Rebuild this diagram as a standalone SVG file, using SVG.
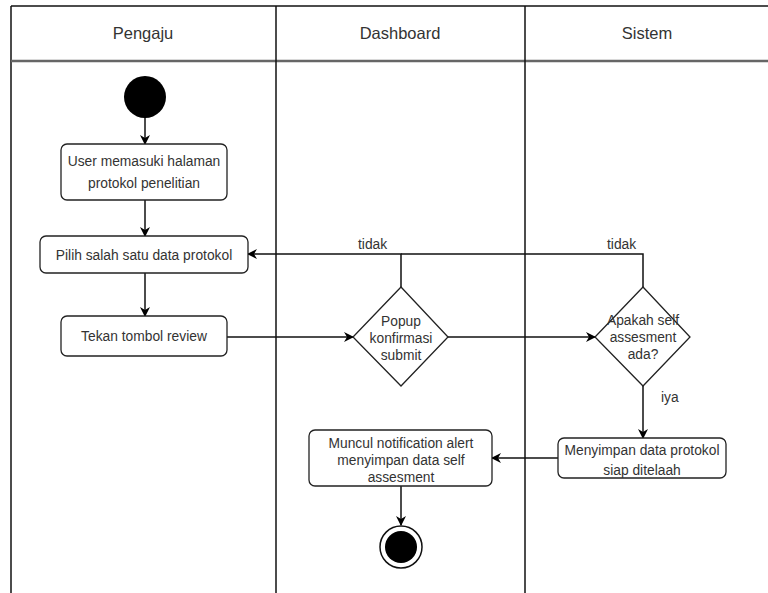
<svg xmlns="http://www.w3.org/2000/svg" width="768" height="593" viewBox="0 0 768 593">
  <defs>
    <marker id="arrow" viewBox="0 0 10 10" refX="9" refY="5" markerWidth="10" markerHeight="10" markerUnits="userSpaceOnUse" orient="auto">
      <path d="M0,0 L10,5 L0,10 L3,5 Z" fill="#000"/>
    </marker>
  </defs>
  <style>
    text { font-family: "Liberation Sans", Arial, sans-serif; fill: #333; }
    .hdr { font-size: 16.5px; text-anchor: middle; }
    .lbl { font-size: 13.8px; text-anchor: middle; }
    .edge-lbl { font-size: 13.8px; }
    .box { fill: #fff; stroke: #222; stroke-width: 1.3; }
    .lane { stroke: #111; stroke-width: 1.5; fill: none; }
    .edge { stroke: #111; stroke-width: 1.5; fill: none; }
  </style>
  <rect width="768" height="593" fill="#fff"/>

  <!-- swimlane frame -->
  <g id="lanes">
    <line class="lane" x1="11" y1="6" x2="768" y2="6"/>
    <line class="lane" x1="11" y1="6" x2="11" y2="593"/>
    <line x1="11" y1="61" x2="768" y2="61" stroke="#666" stroke-width="2.5"/>
    <line class="lane" x1="276" y1="6" x2="276" y2="593"/>
    <line class="lane" x1="525" y1="6" x2="525" y2="593"/>
    <text class="hdr" x="143" y="39">Pengaju</text>
    <text class="hdr" x="400" y="39">Dashboard</text>
    <text class="hdr" x="647" y="39">Sistem</text>
  </g>

  <!-- connectors -->
  <g id="connectors">
    <line class="edge" x1="145" y1="118" x2="145" y2="144" marker-end="url(#arrow)"/>
    <line class="edge" x1="145" y1="200" x2="145" y2="236" marker-end="url(#arrow)"/>
    <line class="edge" x1="145" y1="273" x2="145" y2="316" marker-end="url(#arrow)"/>
    <line class="edge" x1="227" y1="337" x2="353" y2="337" marker-end="url(#arrow)"/>
    <line class="edge" x1="448" y1="337" x2="595" y2="337" marker-end="url(#arrow)"/>
    <polyline class="edge" points="401,287 401,254 248,254" marker-end="url(#arrow)"/>
    <polyline class="edge" points="643,287 643,254 401,254"/>
    <line class="edge" x1="643" y1="386" x2="643" y2="438" marker-end="url(#arrow)"/>
    <line class="edge" x1="558" y1="458" x2="492" y2="458" marker-end="url(#arrow)"/>
    <line class="edge" x1="401" y1="486" x2="401" y2="525" marker-end="url(#arrow)"/>
    <text class="edge-lbl" x="358" y="249">tidak</text>
    <text class="edge-lbl" x="607" y="249">tidak</text>
    <text class="edge-lbl" x="661" y="402">iya</text>
  </g>

  <g id="start">
    <circle cx="145" cy="97" r="21" fill="#000"/>
  </g>

  <g id="masuk-halaman">
    <rect class="box" x="61" y="144" width="166" height="56" rx="6"/>
    <text class="lbl" x="144" y="166">User memasuki halaman</text>
    <text class="lbl" x="144" y="188">protokol penelitian</text>
  </g>

  <g id="pilih-protokol">
    <rect class="box" x="40" y="236" width="208" height="37" rx="6"/>
    <text class="lbl" x="144" y="260">Pilih salah satu data protokol</text>
  </g>

  <g id="tekan-review">
    <rect class="box" x="61" y="316" width="166" height="40" rx="6"/>
    <text class="lbl" x="144" y="341">Tekan tombol review</text>
  </g>

  <g id="popup-konfirmasi">
    <polygon class="box" points="401,287 448,337 401,386 353,337"/>
    <text class="lbl" x="401" y="326">Popup</text>
    <text class="lbl" x="401" y="343">konfirmasi</text>
    <text class="lbl" x="401" y="360">submit</text>
  </g>

  <g id="cek-self-assesment">
    <polygon class="box" points="643,287 690,337 643,386 595,337"/>
    <text class="lbl" x="643" y="325">Apakah self</text>
    <text class="lbl" x="643" y="342">assesment</text>
    <text class="lbl" x="643" y="359">ada?</text>
  </g>

  <g id="simpan-protokol">
    <rect class="box" x="558" y="438" width="168" height="40" rx="6"/>
    <text class="lbl" x="642" y="455">Menyimpan data protokol</text>
    <text class="lbl" x="642" y="475">siap ditelaah</text>
  </g>

  <g id="notifikasi">
    <rect class="box" x="309" y="430" width="183" height="56" rx="6"/>
    <text class="lbl" x="401" y="448">Muncul notification alert</text>
    <text class="lbl" x="401" y="465">menyimpan data self</text>
    <text class="lbl" x="401" y="482">assesment</text>
  </g>

  <g id="end">
    <circle cx="401" cy="547" r="21" fill="#fff" stroke="#111" stroke-width="1.5"/>
    <circle cx="401" cy="547" r="16" fill="#000"/>
  </g>
</svg>
